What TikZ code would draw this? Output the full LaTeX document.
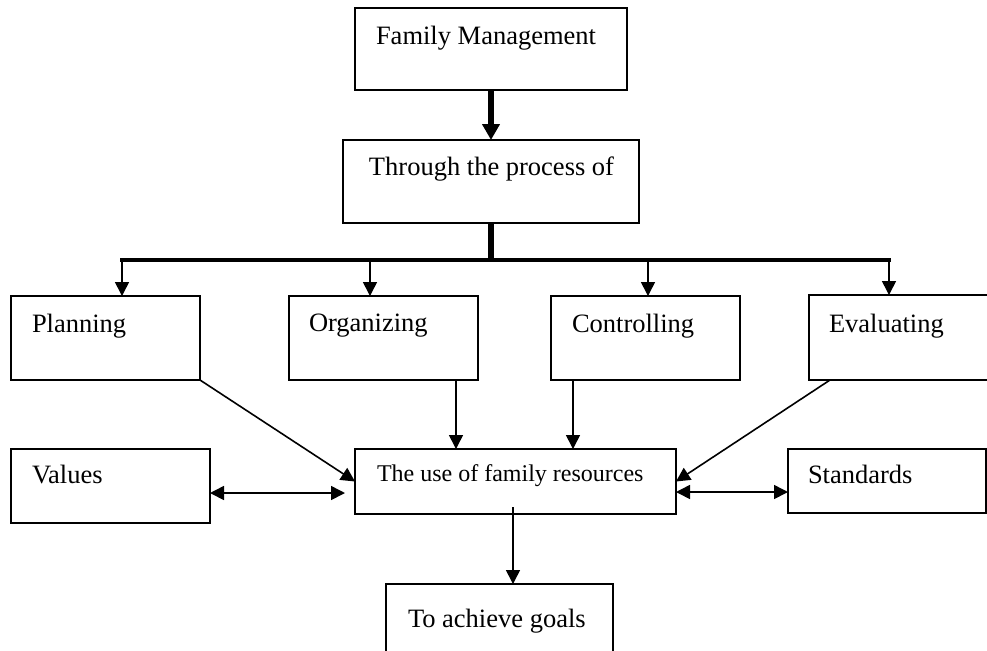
\documentclass[tikz,border=0pt]{standalone}
\usepackage{fontspec}
\setmainfont{Liberation Serif}
\usetikzlibrary{arrows.meta}
\newcommand{\dbox}[8]{%
  \pgfmathsetmacro{\myW}{(#4-#2)/2}%
  \pgfmathsetmacro{\myI}{(#6-#2)/2}%
  \pgfmathsetmacro{\myH}{(#7-#3)/2}%
  \pgfmathsetmacro{\myD}{(#5-#7)/2}%
  \node[box, text width=\myW pt, text height=\myH pt, text depth=\myD pt] (#1) at (#2,#3) {\hspace*{\myI pt}#8};}
\tikzset{
  box/.style={draw, line width=0.8pt, inner sep=0pt, outer sep=0pt, anchor=north west, align=flush left,
    font=\fontsize{13.25}{15}\selectfont},
  arr/.style={line width=0.8pt, -{Triangle[length=7pt,width=7pt]}},
  dbl/.style={line width=0.8pt, {Triangle[length=7pt,width=7pt]}-{Triangle[length=7pt,width=7pt]}},
  thkarr/.style={line width=3pt, -{Triangle[length=8pt,width=8.5pt]}},
  thkline/.style={line width=3.2pt},
  busline/.style={line width=2pt, line cap=rect},
}
\begin{document}
\begin{tikzpicture}[x=0.5pt,y=-0.5pt]
\clip (0,0) rectangle (987,650);
\fill[white] (0,0) rectangle (987,650);
\dbox{fm}{355}{8}{627}{90}{376}{44}{Family Management}
\dbox{tp}{343}{140}{639}{223}{369}{175}{Through the process of}
\dbox{pl}{11}{296}{200}{380}{32}{332}{Planning}
\dbox{org}{289}{296}{478}{380}{309}{331}{Organizing}
\dbox{ctl}{551}{296}{740}{380}{572}{332}{Controlling}
\dbox{ev}{809}{295}{1010}{380}{829}{332}{Evaluating}
\dbox{val}{11}{449}{210}{523}{32}{483}{Values}
\dbox{use}{355}{449}{676}{514}{377}{481}{{\fontsize{12}{14}\selectfont The use of family resources}}
\dbox{std}{788}{449}{986}{513}{808}{483}{Standards}
\dbox{goal}{386}{584}{613}{680}{408}{627}{To achieve goals}
% helper coordinates
\coordinate (trunk) at (491,260);
\coordinate (bus1) at (122,260);
\coordinate (bus2) at (370,260);
\coordinate (bus3) at (648,260);
\coordinate (bus4) at (889,260);
\coordinate (ox) at (456,0);
\coordinate (cx) at (573,0);
\coordinate (ex) at (830,0);
\coordinate (gx) at (513,0);
\coordinate (ly) at (0,493);
\coordinate (ry) at (0,492);
% connectors
\draw[thkarr] (fm.south -| trunk) -- (tp.north -| trunk);
\draw[thkline] (tp.south -| trunk) -- (trunk);
\draw[busline] (bus1) -- (bus4);
\draw[arr] (bus1) -- (pl.north -| bus1);
\draw[arr] (bus2) -- (org.north -| bus2);
\draw[arr] (bus3) -- (ctl.north -| bus3);
\draw[arr] (bus4) -- (ev.north -| bus4);
\draw[arr] (pl.south east) -- (use.west);
\draw[arr] (org.south -| ox) -- (use.north -| ox);
\draw[arr] (ctl.south -| cx) -- (use.north -| cx);
\draw[arr] (ev.south -| ex) -- (use.east);
\draw[dbl, shorten >=5pt] (val.east |- ly) -- (use.west |- ly);
\draw[dbl] (use.east |- ry) -- (std.west |- ry);
\draw[arr, shorten <=-3.5pt] (use.south -| gx) -- (goal.north -| gx);
\end{tikzpicture}
\end{document}
